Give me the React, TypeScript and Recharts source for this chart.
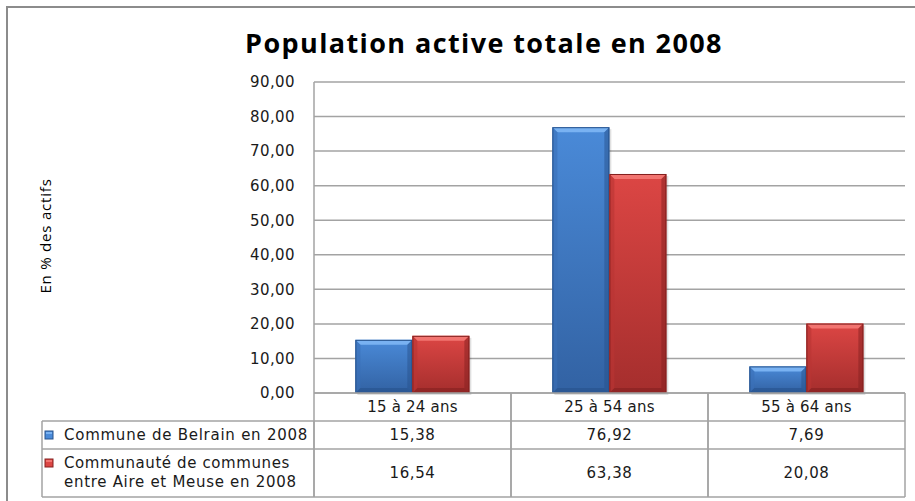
import React from 'react';
import { BarChart, Bar, XAxis, YAxis, CartesianGrid, Customized } from 'recharts';

const TITLE = 'Population active totale en 2008';
const Y_LABEL = 'En % des actifs';
const CATEGORIES = ['15 à 24 ans', '25 à 54 ans', '55 à 64 ans'];
const SERIES_NAMES = ['Commune de Belrain en 2008', 'Communauté de communes|entre Aire et Meuse en 2008'];
const BELRAIN = [15.38, 76.92, 7.69];
const CC_AIRE_MEUSE = [16.54, 63.38, 20.08];
const Y_TICKS = [0, 10, 20, 30, 40, 50, 60, 70, 80, 90];

const data = CATEGORIES.map((c, i) => ({ cat: c, belrain: BELRAIN[i], cc: CC_AIRE_MEUSE[i] }));

const W = 915;
const H = 501;
const PLOT_LEFT = 314;
const PLOT_RIGHT = 905;
const PLOT_TOP = 82;
const PLOT_BOTTOM = 393;
const PLOT_W = PLOT_RIGHT - PLOT_LEFT;
const LEGEND_LEFT = 42;
const ROW1 = 421;
const ROW2 = 449;
const TABLE_BOTTOM = 497;
const LINE = '#a3a3a3';
const TXT = '#1a1a1a';
const FONT = '"DejaVu Sans", Verdana, sans-serif';

const fmt = (v: number) => v.toFixed(2).replace('.', ',');

const PALETTE = {
  blue: { top: '#4a8ad8', bottom: '#3262a3', bevel: '#79b2f2', dark: '#27528c', side: '#3a70b8' },
  red: { top: '#dc4644', bottom: '#a52e2d', bevel: '#f27470', dark: '#84201f', side: '#b93634' },
};

const BevelBar = (props: any) => {
  const { x, y, width, height, colorKey } = props;
  if (!height || height <= 0) return null;
  const p = (PALETTE as any)[colorKey];
  const b = Math.min(5, height / 3);
  const id = 'grad-' + colorKey;
  return (
    <g>
      <defs>
        <linearGradient id={id} x1="0" y1="0" x2="0" y2="1">
          <stop offset="0%" stopColor={p.top} />
          <stop offset="100%" stopColor={p.bottom} />
        </linearGradient>
      </defs>
      <rect x={x + 2} y={y + 2} width={width} height={height} fill="rgba(0,0,0,0.12)" />
      <rect x={x} y={y} width={width} height={height} fill={`url(#${id})`} />
      <polygon points={`${x},${y} ${x + width},${y} ${x + width - b},${y + b} ${x + b},${y + b}`} fill={p.bevel} />
      <polygon points={`${x},${y} ${x + b},${y + b} ${x + b},${y + height - b} ${x},${y + height}`} fill={p.side} opacity={0.6} />
      <polygon points={`${x + width},${y} ${x + width - b},${y + b} ${x + width - b},${y + height - b} ${x + width},${y + height}`} fill={p.dark} opacity={0.5} />
      <polygon points={`${x},${y + height} ${x + b},${y + height - b} ${x + width - b},${y + height - b} ${x + width},${y + height}`} fill={p.dark} opacity={0.6} />
      <rect x={x + 0.5} y={y + 0.5} width={width - 1} height={height - 1} fill="none" stroke={p.dark} strokeWidth={1} />
    </g>
  );
};

const TableColumnTick = (props: any) => {
  const { x, y, payload } = props;
  const i = payload.index;
  const colW = PLOT_W / CATEGORIES.length;
  const left = x - colW / 2;
  const right = x + colW / 2;
  return (
    <g>
      <line x1={left} y1={y} x2={left} y2={TABLE_BOTTOM} stroke={LINE} strokeWidth={1.5} />
      <line x1={right} y1={y} x2={right} y2={TABLE_BOTTOM} stroke={LINE} strokeWidth={1.5} />
      <text x={x} y={(y + ROW1) / 2} textAnchor="middle" dominantBaseline="central" fontFamily={FONT} fontSize={15} letterSpacing={0.2} fill={TXT}>
        {payload.value}
      </text>
      <text x={x} y={(ROW1 + ROW2) / 2} textAnchor="middle" dominantBaseline="central" fontFamily={FONT} fontSize={15} letterSpacing={0.6} fill={TXT}>
        {fmt(BELRAIN[i])}
      </text>
      <text x={x} y={(ROW2 + TABLE_BOTTOM) / 2} textAnchor="middle" dominantBaseline="central" fontFamily={FONT} fontSize={15} letterSpacing={0.6} fill={TXT}>
        {fmt(CC_AIRE_MEUSE[i])}
      </text>
    </g>
  );
};

const Swatch = ({ x, y, colorKey }: any) => {
  const p = (PALETTE as any)[colorKey];
  return (
    <g>
      <rect x={x} y={y} width={8} height={8} fill={p.top} stroke={p.dark} strokeWidth={1} />
      <rect x={x + 1} y={y + 1} width={6} height={2} fill={p.bevel} />
    </g>
  );
};

const Decorations = () => {
  const ccLines = SERIES_NAMES[1].split('|');
  return (
    <g>
      {/* frame */}
      <line x1={6} y1={7} x2={W} y2={7} stroke="#8c8c8c" strokeWidth={2} />
      <line x1={7} y1={7} x2={7} y2={H} stroke="#8c8c8c" strokeWidth={2} />
      {/* title */}
      <text x={484} y={53} textAnchor="middle" fontFamily="'Open Sans', Lato, sans-serif" fontWeight={700} fontSize={27} letterSpacing={1.4} fill="#000">
        {TITLE}
      </text>
      {/* y label */}
      <text x={45} y={236} transform="rotate(-90 45 236)" textAnchor="middle" dominantBaseline="central" fontFamily="'Open Sans', sans-serif" fontSize={15} letterSpacing={0.8} fill="#000">
        {Y_LABEL}
      </text>
      {/* table horizontal lines */}
      <line x1={LEGEND_LEFT} y1={ROW1} x2={PLOT_RIGHT} y2={ROW1} stroke={LINE} strokeWidth={1.5} />
      <line x1={LEGEND_LEFT} y1={ROW2} x2={PLOT_RIGHT} y2={ROW2} stroke={LINE} strokeWidth={1.5} />
      <line x1={LEGEND_LEFT} y1={TABLE_BOTTOM} x2={PLOT_RIGHT} y2={TABLE_BOTTOM} stroke={LINE} strokeWidth={1.5} />
      <line x1={LEGEND_LEFT} y1={ROW1} x2={LEGEND_LEFT} y2={TABLE_BOTTOM} stroke={LINE} strokeWidth={1.5} />
      <line x1={PLOT_LEFT} y1={ROW1} x2={PLOT_LEFT} y2={TABLE_BOTTOM} stroke={LINE} strokeWidth={1.5} />
      {/* legend rows */}
      <Swatch x={45} y={(ROW1 + ROW2) / 2 - 4} colorKey="blue" />
      <text x={64} y={(ROW1 + ROW2) / 2} dominantBaseline="central" fontFamily={FONT} fontSize={15} letterSpacing={0.75} fill={TXT}>
        {SERIES_NAMES[0]}
      </text>
      <Swatch x={45} y={463 - 4} colorKey="red" />
      <text x={64} y={463} dominantBaseline="central" fontFamily={FONT} fontSize={15} letterSpacing={0.6} fill={TXT}>
        {ccLines[0]}
      </text>
      <text x={64} y={482} dominantBaseline="central" fontFamily={FONT} fontSize={15} letterSpacing={0.7} fill={TXT}>
        {ccLines[1]}
      </text>
    </g>
  );
};

export default function App() {
  return (
    <div style={{ position: 'absolute', left: 0, top: 0, width: W, height: H, background: '#fff' }}>
      <BarChart
        width={W}
        height={H}
        data={data}
        margin={{ top: PLOT_TOP, right: W - PLOT_RIGHT, bottom: 0, left: PLOT_LEFT - 60 }}
        barCategoryGap="21%"
        barGap={0}
      >
        <CartesianGrid horizontal vertical={false} stroke={LINE} strokeWidth={1.5} />
        <YAxis
          width={60}
          domain={[0, 90]}
          ticks={Y_TICKS}
          tickFormatter={fmt}
          tickLine={false}
          tickSize={0}
          tickMargin={19}
          axisLine={{ stroke: LINE, strokeWidth: 1.5 }}
          tick={{ fontFamily: FONT, fontSize: 15, fill: TXT, letterSpacing: 0.4 }}
          interval={0}
        />
        <XAxis
          dataKey="cat"
          height={H - PLOT_BOTTOM}
          tickLine={false}
          tickSize={0}
          tickMargin={0}
          axisLine={{ stroke: LINE, strokeWidth: 1.5 }}
          tick={<TableColumnTick />}
          interval={0}
        />
        <Bar dataKey="belrain" isAnimationActive={false} shape={(p: any) => <BevelBar {...p} colorKey="blue" />} />
        <Bar dataKey="cc" isAnimationActive={false} shape={(p: any) => <BevelBar {...p} colorKey="red" />} />
        <Customized component={<Decorations />} />
      </BarChart>
    </div>
  );
}
